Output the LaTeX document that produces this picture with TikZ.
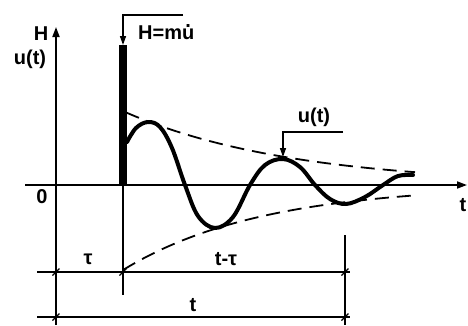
\documentclass[tikz,border=0pt]{standalone}
\usepackage{fontspec}
\setmainfont{Liberation Sans}
\usetikzlibrary{arrows.meta, calc}
\tikzset{
  axis/.style={line width=1.8pt, -{Triangle[length=10pt,width=7pt]}},
  leader/.style={line width=1.4pt, -{Triangle[length=9pt,width=6pt]}},
  envelope/.style={line width=1.8pt, dash pattern=on 14pt off 8pt},
  response/.style={line width=4pt, line cap=round, line join=round},
  dimline/.style={line width=1.1pt},
  lbl/.style={font=\fontsize{20}{23}\selectfont\bfseries, inner sep=1pt},
}
\newcommand\dimtick[1]{\draw[line width=1.1pt] ($(#1)+(-3.5,3.5)$) -- ($(#1)+(3.5,-3.5)$);}
\newcommand\udot{\ooalign{u\cr\hidewidth\raisebox{0.64em}{.}\hidewidth\cr}}

\begin{document}
\begin{tikzpicture}[x=1pt, y=-1pt]
        \useasboundingbox (0,0) rectangle (468,325);

        % Axes
        \coordinate (O) at (56,185);
        \coordinate (xStart) at (25,185);
        \coordinate (xTip) at (467,185);
        \coordinate (yBot) at (56,325);
        \coordinate (yTip) at (56,27);
        \draw[axis] (xStart) -- (xTip);
        \draw[axis] (yBot) -- (yTip);
        \node[lbl] (lblH) at (41,34) {H};
        \node[lbl] (lblU) at (30,59) {u(t)};
        \node[lbl] (lblZero) at (42,197) {0};
        \node[lbl] (lblT) at (463,205) {t};

        % Impulse
        \coordinate (barBase) at (123,185);
        \coordinate (barTop) at (123,45);
        \coordinate (impKnee) at (123,15);
        \coordinate (impEnd) at (183,15);
        \fill ($(barTop)+(-4,0)$) rectangle ($(barBase)+(4,0)$);
        \draw[leader] (impEnd) -- (impKnee) -- (barTop);
        \node[lbl, anchor=west] (lblImpulse) at (137,33) {H=m\udot};

        % Envelopes
        \draw[envelope] plot[domain=126:415, samples=40, smooth]
             (\x, {185-73*exp(-0.006*(\x-125))});
        \draw[envelope] plot[domain=123:418, samples=40, smooth]
             (\x, {185+85*exp(-0.0072*(\x-123))});

        % Response
        \draw[response] plot[smooth, tension=0.6] coordinates {
             (127,142) (136,128) (148,122) (160,127) (172,148) (185,185)
             (198,216) (215,228) (233,217) (250,185) (265,165) (283,159)
             (300,167) (315,185) (330,199) (346,204) (365,197) (383,185)
             (398,176) (413,175)};
        \coordinate (respPeak) at (283,157);
        \coordinate (respKnee) at (283,132);
        \coordinate (respEnd) at (343,132);
        \draw[leader] (respEnd) -- (respKnee) -- (respPeak);
        \node[lbl] (lblResp) at (314,117) {u(t)};

        % Dimensions
        \coordinate (dimA) at (56,272);
        \coordinate (dimB) at (123,272);
        \coordinate (dimC) at (345,272);
        \coordinate (dimD) at (56,317);
        \coordinate (dimE) at (345,317);
        \draw[dimline] (barBase) -- (123,295);
        \draw[dimline] (345,235) -- (345,325);
        \draw[dimline] (37,272) -- (350,272);
        \draw[dimline] (37,317) -- (350,317);
        \foreach \p in {dimA, dimB, dimC, dimD, dimE} {\dimtick{\p}}
        \node[lbl] (lblTau) at (88,259) {τ};
        \node[lbl] (lblTminus) at (226,259) {t-τ};
        \node[lbl] (lblTotal) at (193,305) {t};
      \end{tikzpicture}
\end{document}
